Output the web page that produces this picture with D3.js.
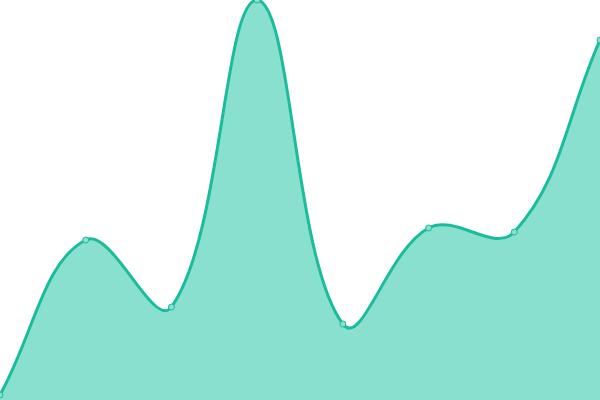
<!DOCTYPE html>
<meta charset="utf-8">
<style>
  body { margin: 0; background: #fff; }
</style>
<script src="https://d3js.org/d3.v7.min.js"></script>
<div id="my_dataviz"></div>
<script>

// data
var labels = ["A", "B", "C", "D", "E", "F", "G", "H"];
var values = [1.25, 40, 23.25, 100, 19, 43, 42, 90];

var width = 600, height = 400;

var svg = d3.select("#my_dataviz")
  .append("svg")
    .attr("width", width)
    .attr("height", height);

// X scale, one point per label across the whole width
var x = d3.scalePoint()
  .domain(labels)
  .range([0, width]);

// Y scale
var y = d3.scaleLinear()
  .domain([0, 100])
  .range([height, 0]);

var data = labels.map(function(l, i) { return { label: l, v: values[i] }; });

// spline curve: control points scaled by distance to neighbours,
// and clamped to the drawing area
function splineCurve(tension, x0, y0, x1, y1) {
  return function(context) {
    var pts = [], line;
    function clampX(v) { return Math.max(x0, Math.min(x1, v)); }
    function clampY(v) { return Math.max(y0, Math.min(y1, v)); }
    return {
      areaStart: function() { line = 0; },
      areaEnd: function() { line = NaN; },
      lineStart: function() { pts = []; },
      point: function(px, py) { pts.push([+px, +py]); },
      lineEnd: function() {
        var n = pts.length;
        if (n) {
          if (line) context.lineTo(pts[0][0], pts[0][1]);
          else context.moveTo(pts[0][0], pts[0][1]);
          // control points for every point
          var cp = pts.map(function(p, i) {
            var a = pts[Math.max(0, i - 1)], b = pts[Math.min(n - 1, i + 1)];
            var d01 = Math.hypot(p[0] - a[0], p[1] - a[1]),
                d12 = Math.hypot(b[0] - p[0], b[1] - p[1]);
            var s01 = d01 / (d01 + d12) || 0,
                s12 = d12 / (d01 + d12) || 0;
            var fa = tension * s01, fb = tension * s12;
            return {
              px: clampX(p[0] - fa * (b[0] - a[0])),
              py: clampY(p[1] - fa * (b[1] - a[1])),
              nx: clampX(p[0] + fb * (b[0] - a[0])),
              ny: clampY(p[1] + fb * (b[1] - a[1]))
            };
          });
          for (var i = 1; i < n; i++) {
            context.bezierCurveTo(cp[i - 1].nx, cp[i - 1].ny, cp[i].px, cp[i].py, pts[i][0], pts[i][1]);
          }
        }
        if (line) context.closePath();
        line = 1 - line;
      }
    };
  };
}

var curve = splineCurve(0.4, 0, 0, width, height);

// area under the curve
svg.append("path")
  .datum(data)
  .attr("fill", "#89e0cf")
  .attr("d", d3.area()
    .curve(curve)
    .x(function(d) { return x(d.label) })
    .y0(height)
    .y1(function(d) { return y(d.v) })
  );

// the line on top
svg.append("path")
  .datum(data)
  .attr("fill", "none")
  .attr("stroke", "#1abc9c")
  .attr("stroke-width", 3)
  .attr("d", d3.line()
    .curve(curve)
    .x(function(d) { return x(d.label) })
    .y(function(d) { return y(d.v) })
  );

// small dots at each point
svg.selectAll("circle")
  .data(data)
  .enter()
  .append("circle")
    .attr("cx", function(d) { return x(d.label) })
    .attr("cy", function(d) { return y(d.v) })
    .attr("r", 3)
    .attr("fill", "#89e0cf")
    .attr("stroke", "#1abc9c")
    .attr("stroke-width", 1);

</script>
